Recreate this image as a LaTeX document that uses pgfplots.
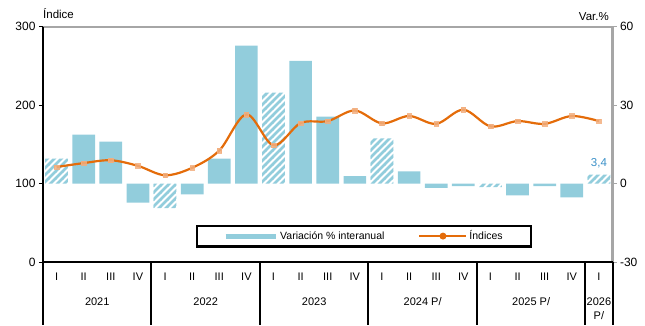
\documentclass[border=0pt]{standalone}
\usepackage{pgfplots}
\pgfplotsset{compat=1.18}
\usepackage{fontspec}
\setmainfont{Liberation Sans}
\usetikzlibrary{patterns}
\definecolor{barblue}{HTML}{92CDDC}
\definecolor{lineor}{HTML}{E46C0A}
\definecolor{markor}{HTML}{F2AE7E}
\definecolor{axgray}{HTML}{A6A6A6}
\definecolor{lblblue}{HTML}{3A90C8}
\pgfdeclarepatternformonly{thickhatch}{\pgfqpoint{-1pt}{-1pt}}{\pgfqpoint{8pt}{8pt}}{\pgfqpoint{7pt}{7pt}}{%
  \pgfsetlinewidth{2.5pt}%
  \pgfpathmoveto{\pgfqpoint{-1pt}{-1pt}}%
  \pgfpathlineto{\pgfqpoint{8pt}{8pt}}%
  \pgfusepath{stroke}}
\pgfplotsset{base/.style={at={(0,0)}, anchor=south west, scale only axis,
  width=569.5pt, height=235.5pt, xmin=-0.5, xmax=20.5, clip=false,
  /pgf/number format/assume math mode=true,
  yticklabel style={font=\fontsize{12}{12}\selectfont},
  tick align=outside, major tick length=4pt}}
\tikzset{qlab/.style={anchor=center, font=\fontsize{11}{11}\selectfont, yshift=-14.7pt, inner sep=0pt},
  ylab/.style={anchor=center, font=\fontsize{11}{11}\selectfont, inner sep=0pt}}
\begin{document}
\begin{tikzpicture}
\useasboundingbox (-43pt,-63pt) rectangle (602pt,262pt);
% ---- right axis: variation bars
\begin{axis}[base, ymin=-30, ymax=60, ytick={-30,0,30,60},
  axis x line=none, axis y line*=right, axis line style={draw=none},
  ytick style={draw=axgray, line width=1pt}]
\addplot[ybar, bar width=22.7pt, bar shift=0pt, fill=barblue, draw=none] coordinates {
(1,18.7) (2,16.0) (3,-7.3) (5,-4.2) (6,9.5) (7,52.7) (9,46.9) (10,25.6) (11,2.8)
(13,4.6) (14,-1.7) (15,-1.0) (17,-4.5) (18,-1.0) (19,-5.3)};
\addplot[ybar, bar width=22.7pt, bar shift=0pt, draw=none, pattern=thickhatch, pattern color=barblue] coordinates {
(0,9.5) (4,-9.4) (8,34.7) (12,17.2) (16,-1.4) (20,3.4)};
\node[anchor=base, inner sep=0pt, yshift=8.5pt, text=lblblue, font=\fontsize{11.5}{11.5}\selectfont] at (axis cs:20,3.4) {3,4};
\end{axis}
% ---- left axis: index line
\begin{axis}[base, ymin=0, ymax=300, ytick={0,100,200,300},
  axis x line=none, axis y line*=left, axis line style={draw=none},
  ytick style={draw=black, line width=1pt},
  legend style={at={(0.5636,0.110)}, anchor=center, draw=black, line width=2.2pt,
    fill=white, font=\fontsize{10.5}{10.5}\selectfont, inner xsep=26pt, inner ysep=3pt,
    /tikz/every even column/.append style={column sep=32pt}},
  legend columns=2, legend cell align=left]
\addlegendimage{legend image code/.code={\draw[barblue, line width=5pt] (0pt,0pt) -- (50pt,0pt);}}
\addlegendentry{Variación \% interanual}
\addlegendimage{legend image code/.code={\draw[lineor, line width=2pt] (0pt,0pt) -- (47pt,0pt); \fill[lineor] (23.5pt,0pt) circle (2.3pt);}}
\addlegendentry{Índices}
\addplot[forget plot, only marks, color=markor, mark=square*, mark size=2.3pt, mark options={fill=markor, draw=markor, opacity=0.85}] coordinates {
(0,121) (1,126) (2,129.6) (3,122.5) (4,110.5) (5,120) (6,142) (7,188) (8,148.7) (9,177)
(10,179.5) (11,193) (12,176.6) (13,186) (14,176) (15,194) (16,172.8) (17,179.5) (18,176) (19,186) (20,179.5)};
\addplot[forget plot, lineor, line width=2.2pt, smooth, tension=0.55, no marks] coordinates {
(0,121) (1,126) (2,129.6) (3,122.5) (4,110.5) (5,120) (6,142) (7,188) (8,148.7) (9,177)
(10,179.5) (11,193) (12,176.6) (13,186) (14,176) (15,194) (16,172.8) (17,179.5) (18,176) (19,186) (20,179.5)};
% spines
\draw[axgray, line width=2pt] (rel axis cs:0,1) -- (rel axis cs:1,1);
\draw[axgray, line width=3pt] (rel axis cs:1,0) -- (rel axis cs:1,1);
\draw[black, line width=2pt] (rel axis cs:0,0) -- (rel axis cs:1,0);
\draw[black, line width=2.5pt] (rel axis cs:0,1) -- (rel axis cs:0,0) -- ++(0pt,-63pt);
\draw[black, line width=2pt] (rel axis cs:1,0) -- ++(0pt,-63pt);
\pgfplotsinvokeforeach{3.5,7.5,11.5,15.5,19.5}{\draw[black, line width=2pt] (axis cs:#1,0) -- ++(0pt,-63pt);}
% quarter labels
\pgfplotsinvokeforeach{0,4,8,12,16,20}{\node[qlab] at (axis cs:#1,0) {I};}
\pgfplotsinvokeforeach{1,5,9,13,17}{\node[qlab] at (axis cs:#1,0) {II};}
\pgfplotsinvokeforeach{2,6,10,14,18}{\node[qlab] at (axis cs:#1,0) {III};}
\pgfplotsinvokeforeach{3,7,11,15,19}{\node[qlab] at (axis cs:#1,0) {IV};}
% year labels
\node[ylab, yshift=-40pt] at (axis cs:1.5,0) {2021};
\node[ylab, yshift=-40pt] at (axis cs:5.5,0) {2022};
\node[ylab, yshift=-40pt] at (axis cs:9.5,0) {2023};
\node[ylab, yshift=-40pt] at (axis cs:13.5,0) {2024 P/};
\node[ylab, yshift=-40pt] at (axis cs:17.5,0) {2025 P/};
\node[ylab, yshift=-40pt] at (axis cs:20,0) {2026};
\node[ylab, yshift=-53.7pt] at (axis cs:20,0) {P/};
% axis titles
\node[anchor=base west, inner sep=0pt, yshift=8.2pt, font=\fontsize{11.5}{11.5}\selectfont] at (rel axis cs:0,1) {Índice};
\node[anchor=base east, inner sep=0pt, yshift=5.8pt, xshift=-3.5pt, font=\fontsize{11.5}{11.5}\selectfont] at (rel axis cs:1,1) {Var.\%};
\end{axis}
\end{tikzpicture}
\end{document}
